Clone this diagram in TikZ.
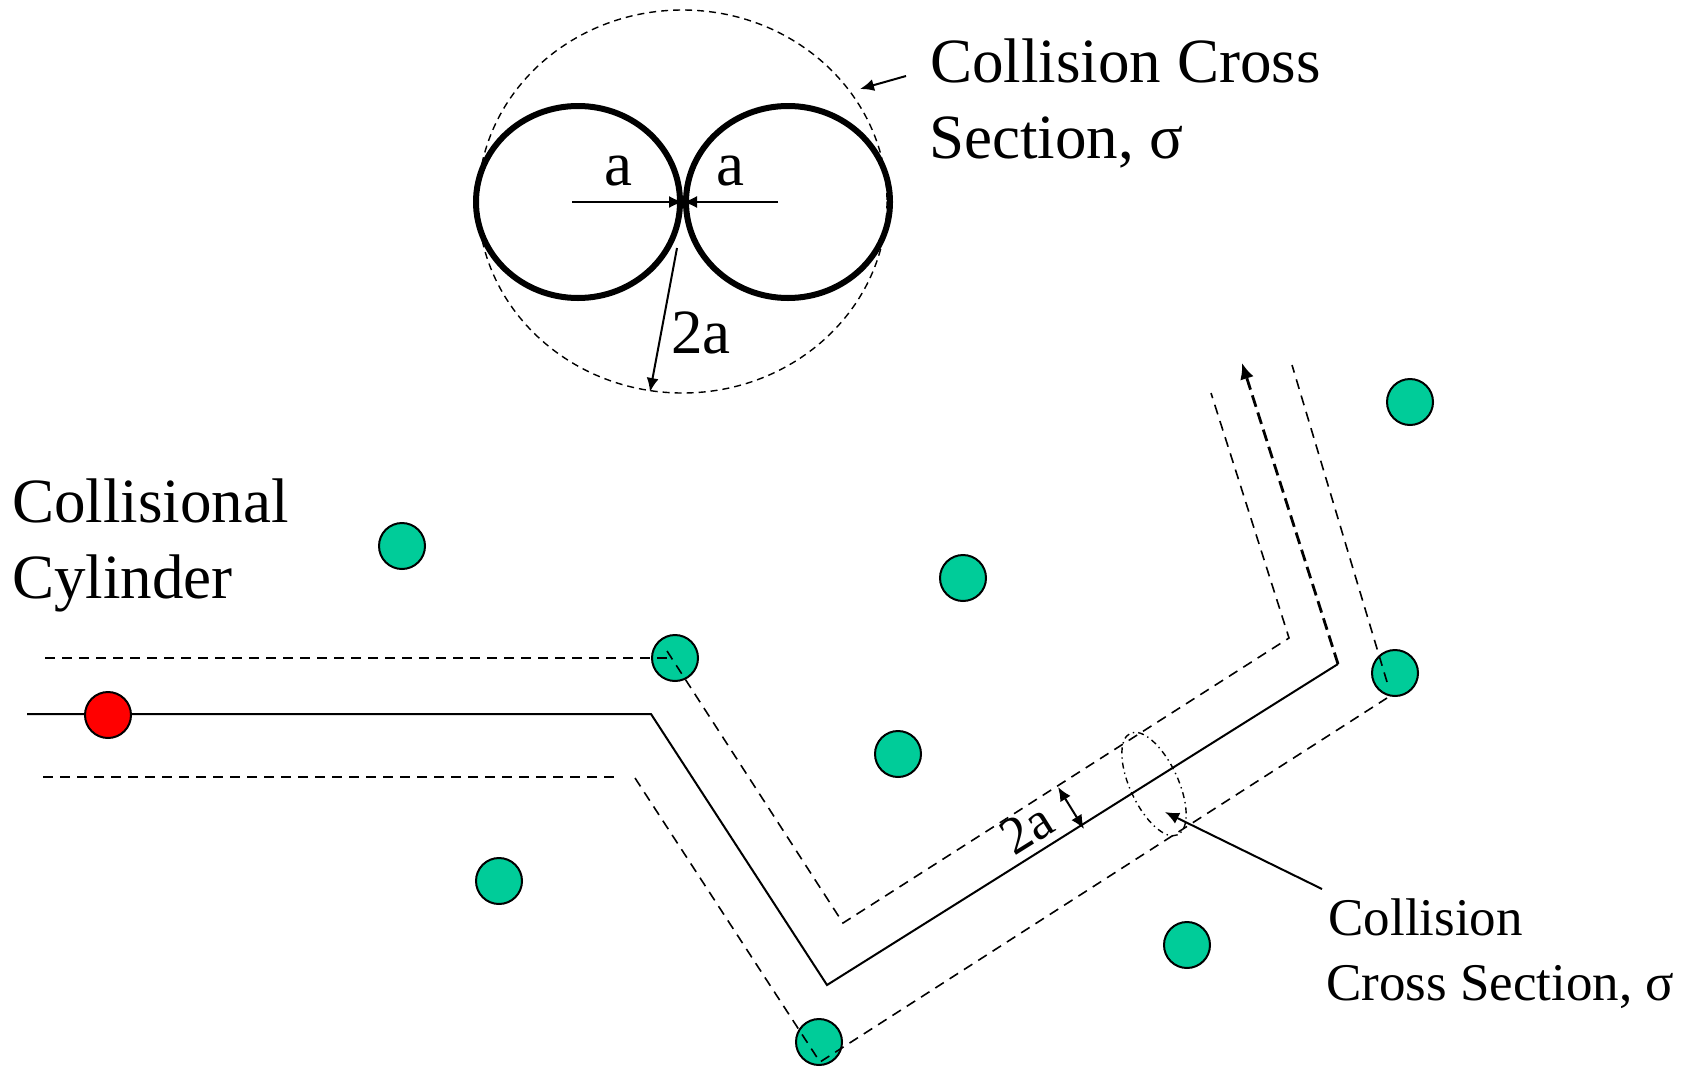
\documentclass[tikz,border=0pt]{standalone}
\usepackage{fontspec}
\setmainfont{Liberation Serif}
\usetikzlibrary{arrows.meta}
\definecolor{molgreen}{HTML}{00CC99}
\definecolor{molred}{HTML}{FF0000}
\begin{document}
\begin{tikzpicture}[x=0.5pt,y=-0.5pt,
  molstyle/.style={circle, draw=black, line width=1pt, minimum size=23pt, inner sep=0pt},
  cyldash/.style={line width=0.8pt, dash pattern=on 5pt off 3.5pt},
  trackline/.style={line width=1pt},
  bigtext/.style={font=\fontsize{31.5}{38}\selectfont, inner sep=0pt, anchor=base west},
  smalltext/.style={font=\fontsize{26.5}{32}\selectfont, inner sep=0pt, anchor=base west},
  arwline/.style={-{Latex[length=7pt,width=6pt]}, line width=1pt},
]
\useasboundingbox (0,0) rectangle (1696,1066);

% green molecules (drawn first, dashed lines pass over them)
\node[molstyle, fill=molgreen] (g1) at (402,546) {};
\node[molstyle, fill=molgreen] (g2) at (675,658) {};
\node[molstyle, fill=molgreen] (g3) at (963,578) {};
\node[molstyle, fill=molgreen] (g4) at (898,754) {};
\node[molstyle, fill=molgreen] (g5) at (499,881) {};
\node[molstyle, fill=molgreen] (g6) at (819,1042) {};
\node[molstyle, fill=molgreen] (g7) at (1187,945) {};
\node[molstyle, fill=molgreen] (g8) at (1395,673) {};
\node[molstyle, fill=molgreen] (g9) at (1410,402) {};

% track
\coordinate (s0) at (27,714);
\coordinate (s1) at (651,714);
\coordinate (s2) at (827,985);
\coordinate (s3) at (1338,664);
\coordinate (s4) at (1242,363);
\draw[trackline] (s0) -- (s1) -- (s2) -- (s3);
\draw[line width=1.4pt, dash pattern=on 6pt off 3pt, -{Latex[length=8pt,width=7pt]}] (s3) -- (s4);

% upper cylinder boundary
\coordinate (u0) at (45,658);
\coordinate (u1) at (671,658);
\coordinate (u2) at (667,651);
\coordinate (u3) at (843,923);
\coordinate (u4) at (1289,638);
\coordinate (u5) at (1211,393);
\draw[cyldash] (u0) -- (u1);
\draw[cyldash] (u2) -- (u3) -- (u4) -- (u5);

% lower cylinder boundary
\coordinate (l0) at (43,777);
\coordinate (l1) at (618,777);
\coordinate (l2) at (635,778);
\coordinate (l3) at (820,1062);
\coordinate (l4) at (1387,698);
\coordinate (r0) at (1387,682);
\coordinate (r1) at (1292,365);
\draw[cyldash] (l0) -- (l1);
\draw[cyldash] (l2) -- (l3) -- (l4);
\draw[cyldash] (r0) -- (r1);

% cross-section ellipse
\coordinate (ec) at (1154,784);
\draw[line width=0.7pt, dash pattern=on 3pt off 2pt on 0.7pt off 2pt, rotate around={-65:(ec)}] (ec) ellipse [x radius=56, y radius=24];

% 2a along cylinder
\coordinate (d0) at (1058,787);
\coordinate (d1) at (1084,829);
\draw[{Latex[length=7pt,width=6pt]}-{Latex[length=7pt,width=6pt]}, line width=1pt] (d0) -- (d1);
\node[smalltext, anchor=base, rotate=32] (lab2a) at (1036,843) {2a};

% lower right label
\node[smalltext] (cs1) at (1328,935) {Collision};
\node[smalltext] (cs2) at (1326,1000) {Cross Section, σ};
\coordinate (csa) at (1322,889);
\coordinate (cst) at (1165,812);
\draw[arwline] (csa) -- (cst);

% red molecule
\node[molstyle, fill=molred] (red) at (108,715) {};

% top: collision cross section
\coordinate (bc) at (682.5,201.5);
\coordinate (lc) at (578,202);
\coordinate (rc) at (788,202);
\draw[line width=0.7pt, dash pattern=on 3.5pt off 2.5pt] (bc) ellipse [x radius=204.5, y radius=191.5];
\draw[line width=3pt] (lc) ellipse [x radius=102, y radius=96];
\draw[line width=3pt] (rc) ellipse [x radius=102, y radius=96];

\coordinate (ca) at (572,202);
\coordinate (cb) at (778,202);
\coordinate (ct) at (683,202);
\draw[arwline] (ca) -- (ct);
\draw[arwline] (cb) -- (ct);
\node[bigtext, anchor=base] (la) at (618,185) {a};
\node[bigtext, anchor=base] (lb) at (730,185) {a};

\coordinate (q0) at (677,248);
\coordinate (q1) at (650,392);
\draw[arwline] (q0) -- (q1);
\node[bigtext, anchor=base] (l2a) at (701,353) {2a};

\node[bigtext] (t1) at (930,82) {Collision Cross};
\node[bigtext] (t2) at (929,158) {Section, σ};
\coordinate (ta0) at (906,76);
\coordinate (ta1) at (860,89);
\draw[arwline] (ta0) -- (ta1);

% left label
\node[bigtext] (c1) at (12,522) {Collisional};
\node[bigtext] (c2) at (12,598) {Cylinder};
\end{tikzpicture}
\end{document}
